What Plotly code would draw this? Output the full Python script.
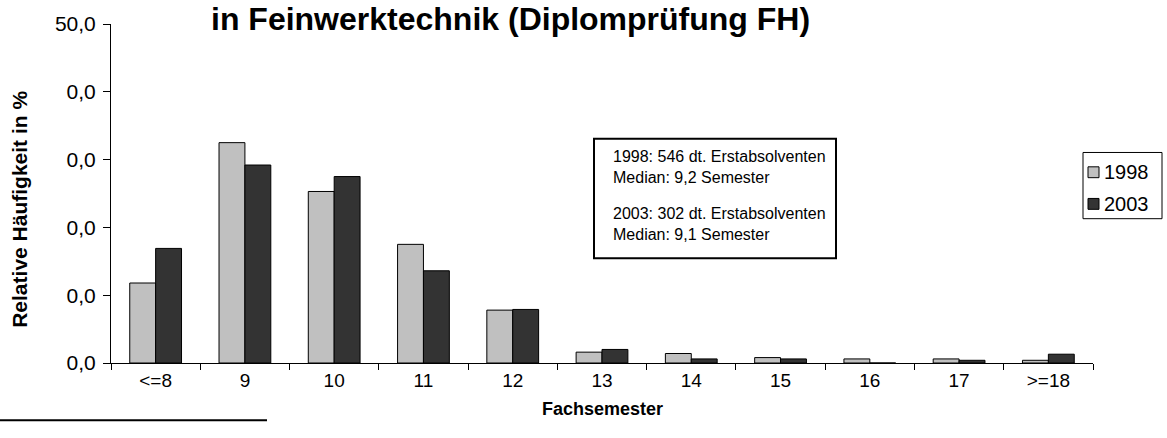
import plotly.graph_objects as go

# Fachsemester categories and relative frequencies (%) per graduation year
categories = ["<=8", "9", "10", "11", "12", "13", "14", "15", "16", "17", ">=18"]
share_1998 = [11.8, 32.5, 25.3, 17.5, 7.8, 1.6, 1.4, 0.8, 0.6, 0.6, 0.4]
share_2003 = [16.9, 29.2, 27.5, 13.6, 7.9, 2.0, 0.6, 0.6, 0.0, 0.4, 1.3]
series_names = ["1998", "2003"]
series_colors = ["#C0C0C0", "#333333"]

y_tickvals = [0, 10, 20, 30, 40, 50]
y_ticktext = ["0,0", "0,0", "0,0", "0,0", "0,0", "50,0"]

info_1998 = "1998: 546 dt. Erstabsolventen<br>Median: 9,2 Semester"
info_2003 = "2003: 302 dt. Erstabsolventen<br>Median: 9,1 Semester"

W, H = 1167, 438
ML, MR, MT, MB = 111, 74, 20, 75
PW, PH = W - ML - MR, H - MT - MB


def px(x):
    return (x - ML) / PW


def py(y):
    return (H - MB - y) / PH


fig = go.Figure()
for name, vals, col in zip(series_names, [share_1998, share_2003], series_colors):
    fig.add_trace(go.Bar(
        x=categories, y=vals, name=name,
        marker=dict(color=col, line=dict(color="black", width=1)),
        showlegend=False,
    ))

font_main = "Arial, Liberation Sans, sans-serif"

fig.update_layout(
    width=W, height=H,
    margin=dict(l=ML, r=MR, t=MT, b=MB),
    paper_bgcolor="white", plot_bgcolor="white",
    barmode="group", bargap=0.42, bargroupgap=0,
    font=dict(family=font_main, color="black"),
    xaxis=dict(
        type="category", showline=True, linecolor="black", linewidth=1,
        ticks="outside", ticklen=6, tickcolor="black", tickson="boundaries",
        tickfont=dict(size=19), showgrid=False, zeroline=False,
    ),
    yaxis=dict(
        range=[0, 50], tickvals=y_tickvals, ticktext=y_ticktext,
        showline=True, linecolor="black", linewidth=1,
        ticks="outside", ticklen=7, tickcolor="black", ticklabelstandoff=3,
        tickfont=dict(size=21), showgrid=False, zeroline=False,
    ),
)

annotations = [
    dict(text="<b>in Feinwerktechnik (Diplomprüfung FH)</b>", x=px(510), y=py(15),
         xanchor="center", yanchor="middle", font=dict(size=32)),
    dict(text="<b>Relative Häufigkeit in %</b>", x=px(20), y=py(208), textangle=-90,
         xanchor="center", yanchor="middle", font=dict(size=21)),
    dict(text="<b>Fachsemester</b>", x=px(602), y=py(410),
         xanchor="center", yanchor="middle", font=dict(size=18)),
    dict(text=info_1998, x=px(611), y=py(165), xanchor="left", yanchor="middle",
         align="left", font=dict(size=16)),
    dict(text=info_2003, x=px(611), y=py(222), xanchor="left", yanchor="middle",
         align="left", font=dict(size=16)),
]

shapes = [
    # info box
    dict(type="rect", x0=px(594), x1=px(836), y0=py(257), y1=py(136),
         line=dict(color="black", width=2), fillcolor="white", layer="below"),
    # legend frame
    dict(type="rect", x0=px(1083), x1=px(1162), y0=py(217), y1=py(150),
         line=dict(color="black", width=1), fillcolor="white"),
    # footnote separator
    dict(type="line", x0=px(0), x1=px(267), y0=py(421), y1=py(421),
         line=dict(color="black", width=2)),
]

for i, (name, col) in enumerate(zip(series_names, series_colors)):
    cy = 170 + 32 * i
    shapes.append(dict(type="rect", x0=px(1088), x1=px(1099), y0=py(cy + 5.5), y1=py(cy - 5.5),
                       line=dict(color="black", width=1), fillcolor=col))
    annotations.append(dict(text=name, x=px(1102), y=py(cy), xanchor="left", yanchor="middle",
                            showarrow=False, font=dict(size=20)))

for a in annotations:
    a.setdefault("showarrow", False)
    a["xref"] = "paper"
    a["yref"] = "paper"
for s in shapes:
    s["xref"] = "paper"
    s["yref"] = "paper"

fig.update_layout(annotations=annotations, shapes=shapes)

fig.write_html("out.html")
